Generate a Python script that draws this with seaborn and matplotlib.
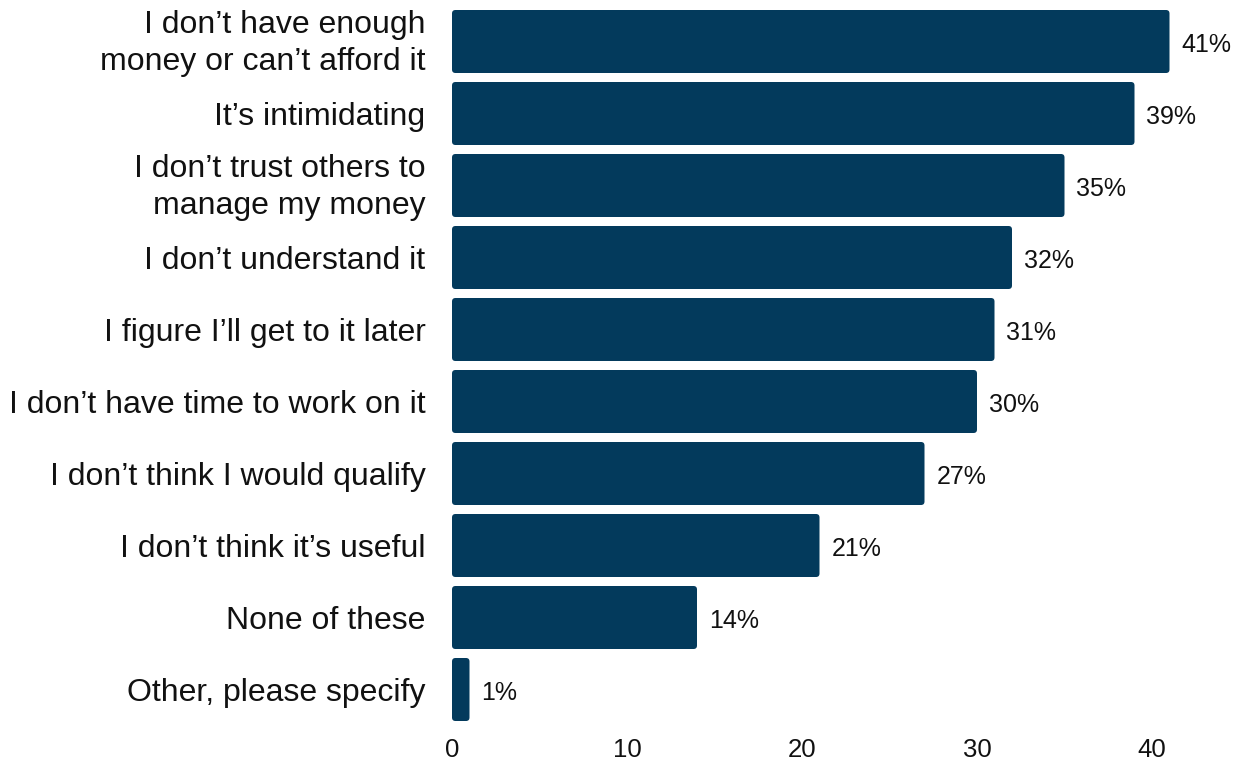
import matplotlib
matplotlib.use("Agg")
import matplotlib.pyplot as plt
import matplotlib.transforms as mtransforms
from matplotlib.patches import FancyBboxPatch
import seaborn as sns
import pandas as pd

categories = [
    "I don\u2019t have enough\nmoney or can\u2019t afford it",
    "It\u2019s intimidating",
    "I don\u2019t trust others to\nmanage my money",
    "I don\u2019t understand it",
    "I figure I\u2019ll get to it later",
    "I don\u2019t have time to work on it",
    "I don\u2019t think I would qualify",
    "I don\u2019t think it\u2019s useful",
    "None of these",
    "Other, please specify",
]
values = [41, 39, 35, 32, 31, 30, 27, 21, 14, 1]
x_ticks = [0, 10, 20, 30, 40]

BAR_COLOR = "#033a5c"

sns.set_theme(style="white")
plt.rcParams["font.family"] = ["Liberation Sans", "DejaVu Sans"]

df = pd.DataFrame({"reason": categories, "pct": values})

fig = plt.figure(figsize=(12.43, 7.62), dpi=100)
ax = fig.add_axes([452 / 1243, 1 - 725.5 / 762, 770 / 1243, 720 / 762])

sns.barplot(data=df, x="pct", y="reason", orient="h", color=BAR_COLOR,
            width=0.875, saturation=1, ax=ax, linewidth=0)

ax.set_xlim(0, 44)
ax.set_ylim(len(categories) - 0.5, -0.5)

# swap plain rectangles for slightly rounded ones
px_x = 770 / 44
px_y = 720 / len(categories)
for p in list(ax.patches):
    x0, y0 = p.get_x(), p.get_y()
    w, h = p.get_width(), p.get_height()
    rs = min(3.5 / px_x, w / 2)
    rounded = FancyBboxPatch((x0, y0), w, h,
                             boxstyle=f"round,pad=0,rounding_size={rs}",
                             mutation_aspect=px_x / px_y,
                             facecolor=BAR_COLOR, edgecolor="none")
    p.remove()
    ax.add_patch(rounded)

for i, v in enumerate(values):
    ax.annotate(f"{v}%", xy=(v, i), xytext=(8.5, -2.2), textcoords="offset points",
                va="center", ha="left", fontsize=18, color="#111111")

ax.set_xticks(x_ticks)
ax.set_xticklabels([str(t) for t in x_ticks], fontsize=18.5, color="#111111")
ax.tick_params(axis="x", length=0, pad=9)
ax.tick_params(axis="y", length=0, pad=19)
lift = mtransforms.ScaledTranslation(0, 0.05, fig.dpi_scale_trans)
for lbl in ax.get_yticklabels():
    lbl.set_fontsize(23)
    lbl.set_color("#111111")
    lbl.set_linespacing(1.3)
    if "\n" in lbl.get_text():
        lbl.set_transform(lbl.get_transform() + lift)
ax.set_xlabel("")
ax.set_ylabel("")
for s in ax.spines.values():
    s.set_visible(False)

fig.savefig("out.png", dpi=100, facecolor="white")
